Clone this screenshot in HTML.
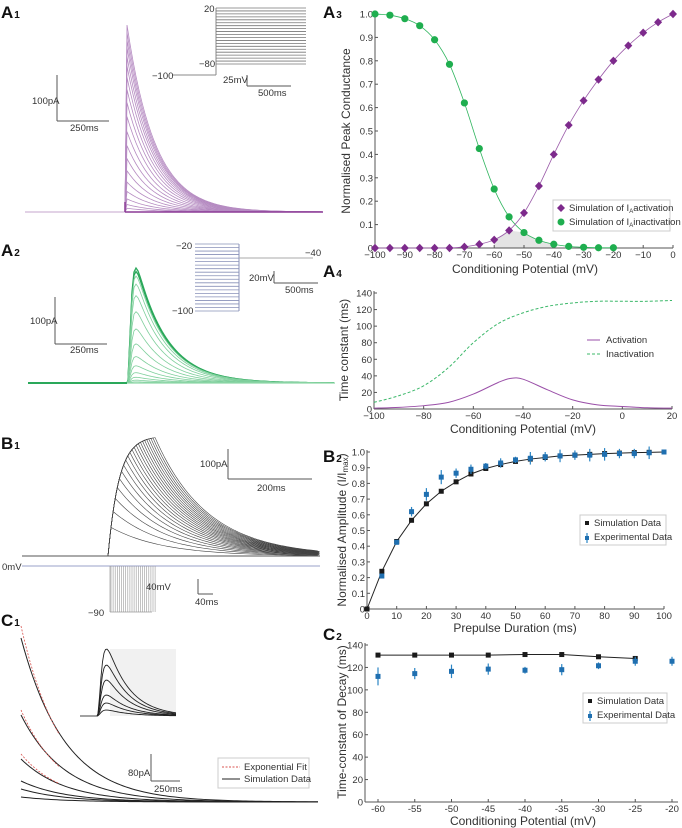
<!DOCTYPE html>
<html><head><meta charset="utf-8"><style>
body{margin:0;background:#fff;}
svg{display:block;font-family:"Liberation Sans",sans-serif;}
text{fill:#333;}
.t{font-size:9.5px;}
.lab{font-size:12px;}
.pl{font-size:17px;font-weight:bold;fill:#111;}
.sub{font-size:10px;font-weight:bold;}
</style></head><body>
<svg id="fig" width="682" height="828" viewBox="0 0 682 828">
<g id="g"></g>
</svg>
<script>
// ---------- data ----------
const a3X = [-100,-95,-90,-85,-80,-75,-70,-65,-60,-55,-50,-45,-40,-35,-30,-25,-20,-15,-10,-5,0];
const a3Act = [0,0,0,0,0,0,0.005,0.016,0.035,0.075,0.15,0.265,0.40,0.525,0.63,0.72,0.80,0.865,0.92,0.965,1.0];
const a3InX = [-100,-95,-90,-85,-80,-75,-70,-65,-60,-55,-50,-45,-40,-35,-30,-25,-20];
const a3Inact = [1.0,0.995,0.98,0.95,0.89,0.785,0.62,0.425,0.252,0.133,0.066,0.033,0.016,0.007,0.003,0.001,0.001];
const a4X = [-100,-90,-80,-70,-60,-50,-45,-40,-30,-20,-10,0,10,20];
const a4Act = [1,2,4,8,18,32,37,36,23,11,5,3,1.5,1];
const a4InX = [-100,-90,-80,-70,-60,-50,-40,-30,-20,-10,0,10,20];
const a4Inact = [8,16,28,50,80,103,116,124,128,130,130,130,131];
const b2X = [0,5,10,15,20,25,30,35,40,45,50,55,60,65,70,75,80,85,90,95,100];
const b2Sim = [0,0.24,0.43,0.565,0.67,0.75,0.81,0.86,0.895,0.92,0.94,0.955,0.965,0.975,0.98,0.985,0.99,0.993,0.996,0.998,1.0];
const b2ExpX = [5,10,15,20,25,30,35,40,45,50,55,60,65,70,75,80,85,90,95,100];
const b2Exp = [0.21,0.425,0.62,0.73,0.84,0.865,0.89,0.91,0.93,0.95,0.96,0.97,0.975,0.98,0.98,0.985,0.99,0.99,0.995,1.0];
const b2Err = [0.015,0.015,0.03,0.04,0.045,0.03,0.03,0.02,0.03,0.02,0.04,0.03,0.04,0.03,0.04,0.04,0.03,0.03,0.04,0.01];
const c2X = [-60,-55,-50,-45,-40,-35,-30,-25];
const c2Sim = [131,131,131,131,131.5,131.5,129.5,128];
const c2ExpX = [-60,-55,-50,-45,-40,-35,-30,-25,-20];
const c2Exp = [112,114.5,116.5,118.5,117.5,118,121.5,125.5,125.5];
const c2Err = [8,5,6,5,3,5,3,4,4];
const a1Peaks = [1,0.96,0.92,0.88,0.83,0.78,0.72,0.655,0.585,0.51,0.43,0.355,0.285,0.22,0.16,0.11,0.07,0.04,0.02];
const a2Peaks = [1,0.97,0.93,0.86,0.76,0.62,0.47,0.34,0.23,0.15,0.09,0.05,0.025,0.01];
const c1Amps = [164,87,43,21,13,5];
const c1InsetAmps = [67,51,36,21,13,6];

// ---------- helpers ----------
const NS="http://www.w3.org/2000/svg";
const G=document.getElementById('g');
function el(tag,attrs,parent){const e=document.createElementNS(NS,tag);for(const k in attrs)e.setAttribute(k,attrs[k]);(parent||G).appendChild(e);return e;}
function txt(x,y,s,cls,anchor,parent){const t=el('text',{x:x,y:y,class:cls||'t','text-anchor':anchor||'start'},parent);t.textContent=s;return t;}
function lin(x1,y1,x2,y2,st,w,parent){return el('line',{x1:x1,y1:y1,x2:x2,y2:y2,stroke:st||'#555','stroke-width':w||1},parent);}
function scale(d0,d1,r0,r1){return v=>r0+(v-d0)/(d1-d0)*(r1-r0);}
function smooth(pts){let d='M'+pts[0][0]+','+pts[0][1];for(let i=0;i<pts.length-1;i++){const p0=pts[Math.max(0,i-1)],p1=pts[i],p2=pts[i+1],p3=pts[Math.min(pts.length-1,i+2)];d+=' C'+(p1[0]+(p2[0]-p0[0])/6)+','+(p1[1]+(p2[1]-p0[1])/6)+' '+(p2[0]-(p3[0]-p1[0])/6)+','+(p2[1]-(p3[1]-p1[1])/6)+' '+p2[0]+','+p2[1];}return d;}
function panelLabel(x,y,l,n,name){const t=el('text',{x:x,y:y,class:'pl'});t.textContent=l;const s=el('tspan',{class:'sub',dx:1},t);s.textContent=n;

}

// ---------- A1 ----------
panelLabel(1,18,'A','1','panel-label-a1');
{const g=el('g',{});


const base=212,x0=125,H=187;
a1Peaks.forEach((p,i)=>{let pts=[];pts.push([x0,base]);for(let x=x0+2;x<=323;x+=3){pts.push([x,base-H*p*Math.exp(-(x-x0-2)/28)]);}
el('polyline',{points:pts.map(q=>q.join(',')).join(' '),fill:'none',stroke:'#b68cc2','stroke-width':0.8},g);});
lin(25,base,125,base,'#d8c4de',1.5,g);lin(125,base,323,base,'#8b3a96',1.5,g);lin(125,base,125,base-10,'#8b3a96',1.5,g);
}
lin(57,75,57,121);lin(57,121,109,121);txt(32,104,'100pA');txt(70,131,'250ms');
{const g=el('g',{});


lin(172,75,216,75,'#888',1,g);lin(216,8,216,75,'#888',1,g);
for(let i=0;i<20;i++){const y=8+i*56/19;lin(216,y,306,y,'#777',0.8,g);}
txt(204,12,'20','t','start',g);txt(199,67,'−80','t','start',g);txt(152,79,'−100','t','start',g);}
lin(247,75,247,86);lin(247,86,291,86);txt(223,83,'25mV');txt(258,96,'500ms');

// ---------- A2 ----------
panelLabel(1,256,'A','2','panel-label-a2');
{const g=el('g',{});


const base=383,x0=127,H=115;
const f=t=>Math.pow(1-Math.exp(-t/2.2),4)*Math.exp(-t/30);
let mx=0;for(let t=0;t<60;t+=0.5)mx=Math.max(mx,f(t));
a2Peaks.forEach((p,i)=>{let pts=[[x0,base]];for(let x=x0+1;x<=335;x+=2){pts.push([x,base-H*p*f(x-x0)/mx]);}
el('polyline',{points:pts.map(q=>q.join(',')).join(' '),fill:'none',stroke:i<2?'#2aa85a':'#7fcf9c','stroke-width':i<2?1.3:0.8},g);});
lin(28,base,127,base,'#2aa85a',2,g);lin(127,base,335,base,'#8fd8a8',1.2,g);}
lin(55,297,55,344);lin(55,344,107,344);txt(30,324,'100pA');txt(70,353,'250ms');
{const g=el('g',{});


for(let i=0;i<20;i++){const y=244+i*67/19;lin(195,y,239,y,'#8890b8',0.8,g);}
lin(239,244,239,311,'#8890b8',1,g);lin(239,258,313,258,'#aaa',1,g);
txt(176,249,'−20','t','start',g);txt(172,314,'−100','t','start',g);txt(305,256,'−40','t','start',g);}
lin(274,271,274,283);lin(274,283,318,283);txt(249,281,'20mV');txt(285,293,'500ms');

// ---------- B1 ----------
panelLabel(1,449,'B','1','panel-label-b1');
{const g=el('g',{});


const base=556,xs=108,A=120;
for(let i=0;i<22;i++){const xe=111+i*2.1;const Em=A*(1-Math.exp(-(xe-xs)/11));let pts=[[xe-0.5,base]];
for(let x=xs;x<=xe;x+=1.5)pts.push([x,base-A*(1-Math.exp(-(x-xs)/11))]);
for(let x=xe;x<=320;x+=3)pts.push([x,base-Em*Math.exp(-(x-xe)/52)]);
el('polyline',{points:pts.map(q=>q.join(',')).join(' '),fill:'none',stroke:'#444','stroke-width':0.6},g);}
lin(22,base,320,base,'#555',1,g);}
lin(228,449,228,479);lin(228,479,312,479);txt(200,467,'100pA');txt(257,491,'200ms');
{const g=el('g',{});


lin(22,566,320,566,'#9aa0c8',1,g);lin(110,566,110,612,'#999',0.7,g);lin(110,612,152,612,'#999',0.7,g);
for(let i=0;i<22;i++){const x=111+i*2.1;lin(x,566,x,612,'#999',0.6,g);}
txt(2,570,'0mV','t','start',g);txt(88,616,'−90','t','start',g);}
lin(198,579,198,594);lin(198,594,213,594);txt(146,590,'40mV');txt(195,605,'40ms');

// ---------- C1 ----------
panelLabel(1,626,'C','1','panel-label-c1');
{const g=el('g',{});


const base=802;
c1Amps.forEach((a,i)=>{let pts=[];for(let x=21;x<=318;x+=3)pts.push([x,base-a*Math.exp(-(x-21)/44)]);
el('polyline',{points:pts.map(q=>q.join(',')).join(' '),fill:'none',stroke:'#222','stroke-width':1},g);
if(i<3){let fp=[];for(let x=21;x<=60;x+=2)fp.push([x,base-(a+(i==0?12:5))*Math.exp(-(x-21)/40)]);
el('polyline',{points:fp.map(q=>q.join(',')).join(' '),fill:'none',stroke:'#d9534f','stroke-width':0.8,'stroke-dasharray':'2,1.5'},g);}});
}
{const g=el('g',{});


el('rect',{x:110,y:649,width:66,height:67,fill:'#f1f1f1'},g);
const base=716,x0=97;const f=t=>Math.pow(1-Math.exp(-t/3),3)*Math.exp(-t/22);let mx=0;for(let t=0;t<50;t+=0.5)mx=Math.max(mx,f(t));
c1InsetAmps.forEach(a=>{let pts=[[x0,base]];for(let x=x0+1;x<=176;x+=1.5)pts.push([x,base-a*f(x-x0)/mx]);
el('polyline',{points:pts.map(q=>q.join(',')).join(' '),fill:'none',stroke:'#222','stroke-width':0.9},g);});
lin(80,base,x0,base,'#444',1,g);}
lin(151,754,151,781);lin(151,781,180,781);txt(128,776,'80pA');txt(154,792,'250ms');
{const g=el('g',{});


el('rect',{x:218,y:758,width:91,height:30,fill:'#fff',stroke:'#ccc'},g);
lin(222,767,240,767,'#d9534f',1,g).setAttribute('stroke-dasharray','2,1.5');txt(244,770,'Exponential Fit','t','start',g);
lin(222,779,240,779,'#222',1,g);txt(244,782,'Simulation Data','t','start',g);}

// ---------- generic axes ----------
function axes(name,x0,x1,y0,y1,xticks,yticks,xs,ys,xfmt,yfmt){const g=el('g',{});


lin(x0,y0,x1,y0,'#555',1,g);lin(x0,y0,x0,y1,'#555',1,g);
xticks.forEach(v=>{const x=xs(v);lin(x,y0,x,y0-3,'#555',1,g);txt(x,y0+10,xfmt(v),'t','middle',g);});
yticks.forEach(v=>{const y=ys(v);lin(x0,y,x0+3,y,'#555',1,g);txt(x0-2,y+3.5,yfmt(v),'t','end',g);});return g;}

// ---------- A3 ----------
panelLabel(323,18,'A','3','panel-label-a3');
{const xs=scale(-100,0,375,673),ys=scale(0,1,248,14);
const yt=[0,0.1,0.2,0.3,0.4,0.5,0.6,0.7,0.8,0.9,1.0];
const xt=[-100,-90,-80,-70,-60,-50,-40,-30,-20,-10,0];
let sp=[];for(let i=8;i<=12;i++){sp.push([xs(a3X[i]),ys(Math.min(a3Act[i],a3Inact[i]))]);}
const sh=el('polygon',{points:[[xs(-60),ys(0)]].concat(sp).concat([[xs(-40),ys(0)]]).map(q=>q.join(',')).join(' '),fill:'#e4e4e4'});


axes('a3-axes',375,673,248,12,xt,yt,xs,ys,v=>v==0?'0':'−'+(-v),v=>v==0?'0':v.toFixed(1));
const gi=el('g',{});


el('path',{d:smooth(a3InX.map((x,i)=>[xs(x),ys(a3Inact[i])])),fill:'none',stroke:'#2fb55e','stroke-width':0.8},gi);
a3InX.forEach((x,i)=>{const c=el('circle',{cx:xs(x),cy:ys(a3Inact[i]),r:3.6,fill:'#1fae4f'},gi);

});
const ga=el('g',{});


el('path',{d:smooth(a3X.map((x,i)=>[xs(x),ys(a3Act[i])])),fill:'none',stroke:'#9a5aa8','stroke-width':0.8},ga);
a3X.forEach((x,i)=>{const cx=xs(x),cy=ys(a3Act[i]);const d=el('polygon',{points:`${cx},${cy-4.2} ${cx+4},${cy} ${cx},${cy+4.2} ${cx-4},${cy}`,fill:'#7d2a8c'},ga);

});
txt(525,273,'Conditioning Potential (mV)','lab','middle');
const yl=txt(0,0,'Normalised Peak Conductance','lab','middle');yl.setAttribute('transform','translate(350,131) rotate(-90)');
const lg=el('g',{});


el('rect',{x:553,y:200,width:117,height:31,fill:'#fff',stroke:'#ccc'},lg);
el('polygon',{points:'561,204 565,208 561,212 557,208',fill:'#7d2a8c'},lg);
const t1=txt(569,211,'Simulation of I','t','start',lg);const s1=el('tspan',{'font-size':'6',dy:2},t1);s1.textContent='A';const r1=el('tspan',{dy:-2},t1);r1.textContent='activation';
el('circle',{cx:561,cy:222,r:3.5,fill:'#1fae4f'},lg);
const t2=txt(569,225,'Simulation of I','t','start',lg);const s2=el('tspan',{'font-size':'6',dy:2},t2);s2.textContent='A';const r2=el('tspan',{dy:-2},t2);r2.textContent='inactivation';
}

// ---------- A4 ----------
panelLabel(323,277,'A','4','panel-label-a4');
{const xs=scale(-100,20,374,672),ys=scale(0,140,409,293);
axes('a4-axes',374,672,409,291,[-100,-80,-60,-40,-20,0,20],[0,20,40,60,80,100,120,140],xs,ys,v=>v<0?'−'+(-v):''+v,v=>''+v);
const p1=el('path',{d:smooth(a4X.map((x,i)=>[xs(x),ys(a4Act[i])])),fill:'none',stroke:'#9a4fa8','stroke-width':1});


const p2=el('path',{d:smooth(a4InX.map((x,i)=>[xs(x),ys(a4Inact[i])])),fill:'none',stroke:'#3cb86a','stroke-width':1,'stroke-dasharray':'3,2'});


txt(523,433,'Conditioning Potential (mV)','lab','middle');
const yl=txt(0,0,'Time constant (ms)','lab','middle');yl.setAttribute('transform','translate(348,350) rotate(-90)');
const lg=el('g',{});


lin(587,340,600,340,'#9a4fa8',1,lg);txt(606,343,'Activation','t','start',lg);
lin(587,354,600,354,'#3cb86a',1,lg).setAttribute('stroke-dasharray','3,2');txt(606,357,'Inactivation','t','start',lg);}

// ---------- B2 ----------
panelLabel(323,462,'B','2','panel-label-b2');
{const xs=scale(0,100,367,664),ys=scale(0,1,609,452);
axes('b2-axes',367,664,609,450,[0,10,20,30,40,50,60,70,80,90,100],[0,0.1,0.2,0.3,0.4,0.5,0.6,0.7,0.8,0.9,1.0],xs,ys,v=>''+v,v=>v==0?'0':v.toFixed(1));
const gs=el('g',{});


el('polyline',{points:b2X.map((x,i)=>xs(x)+','+ys(b2Sim[i])).join(' '),fill:'none',stroke:'#222','stroke-width':1},gs);
b2X.forEach((x,i)=>el('rect',{x:xs(x)-2.5,y:ys(b2Sim[i])-2.5,width:5,height:5,fill:'#1a1a1a'},gs));
const ge=el('g',{});


b2ExpX.forEach((x,i)=>{lin(xs(x),ys(b2Exp[i]-b2Err[i]),xs(x),ys(b2Exp[i]+b2Err[i]),'#2b86c5',1.2,ge);
el('rect',{x:xs(x)-2.5,y:ys(b2Exp[i])-2.5,width:5,height:5,fill:'#1f6fb0'},ge);});
txt(515,632,'Prepulse Duration (ms)','lab','middle');
const yl=el('text',{class:'lab','text-anchor':'middle',transform:'translate(346,530) rotate(-90)'});yl.textContent='Normalised Amplitude (I/I';const ts=el('tspan',{'font-size':'8',dy:2},yl);ts.textContent='max';const te=el('tspan',{dy:-2},yl);te.textContent=')';
const lg=el('g',{});


el('rect',{x:580,y:515,width:86,height:30,fill:'#fff',stroke:'#ccc'},lg);
el('rect',{x:585,y:521,width:4,height:4,fill:'#1a1a1a'},lg);txt(594,526,'Simulation Data','t','start',lg);
lin(587,533,587,543,'#2b86c5',1.2,lg);el('rect',{x:585,y:536,width:4,height:4,fill:'#1f6fb0'},lg);txt(594,540,'Experimental Data','t','start',lg);}

// ---------- C2 ----------
panelLabel(323,640,'C','2','panel-label-c2');
{const xs=scale(-60,-20,378,672),ys=scale(0,140,802,645);
axes('c2-axes',365,678,802,643,[-60,-55,-50,-45,-40,-35,-30,-25,-20],[0,20,40,60,80,100,120,140],xs,ys,v=>''+v,v=>''+v);
const gs=el('g',{});


el('polyline',{points:c2X.map((x,i)=>xs(x)+','+ys(c2Sim[i])).join(' '),fill:'none',stroke:'#222','stroke-width':1},gs);
c2X.forEach((x,i)=>el('rect',{x:xs(x)-2.5,y:ys(c2Sim[i])-2.5,width:5,height:5,fill:'#1a1a1a'},gs));
const ge=el('g',{});


c2ExpX.forEach((x,i)=>{lin(xs(x),ys(c2Exp[i]-c2Err[i]),xs(x),ys(c2Exp[i]+c2Err[i]),'#2b86c5',1.2,ge);
el('rect',{x:xs(x)-2.5,y:ys(c2Exp[i])-2.5,width:5,height:5,fill:'#1f6fb0'},ge);});
txt(523,825,'Conditioning Potential (mV)','lab','middle');
const yl=txt(0,0,'Time-constant of Decay (ms)','lab','middle');yl.setAttribute('transform','translate(346,722) rotate(-90)');
const lg=el('g',{});


el('rect',{x:583,y:693,width:84,height:30,fill:'#fff',stroke:'#ccc'},lg);
el('rect',{x:588,y:699,width:4,height:4,fill:'#1a1a1a'},lg);txt(597,704,'Simulation Data','t','start',lg);
lin(590,711,590,721,'#2b86c5',1.2,lg);el('rect',{x:588,y:714,width:4,height:4,fill:'#1f6fb0'},lg);txt(597,718,'Experimental Data','t','start',lg);}
</script>
</body></html>
